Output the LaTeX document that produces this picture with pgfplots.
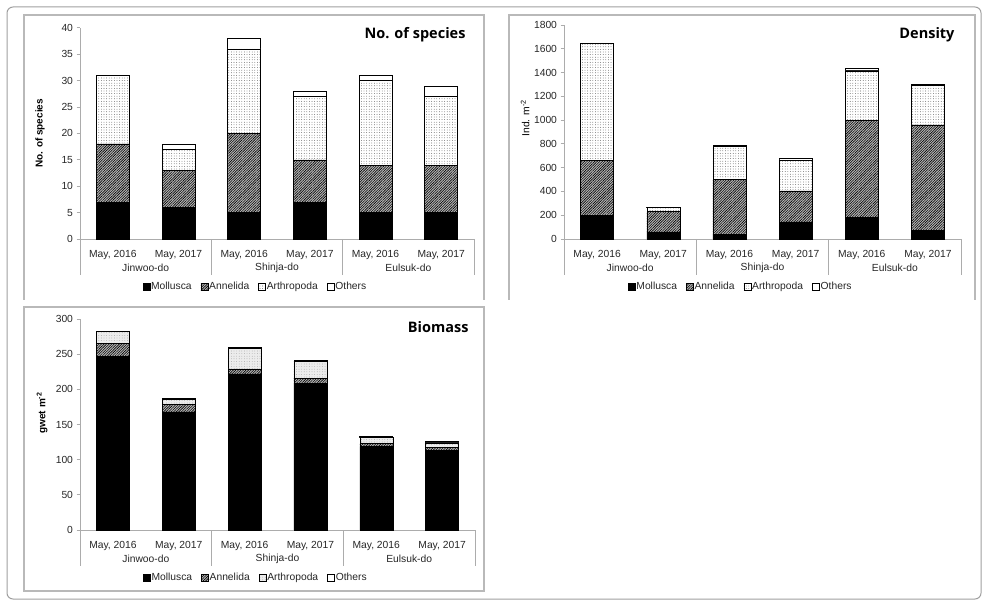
\documentclass[border=0pt]{standalone}
\usepackage{fontspec}
\setmainfont{Liberation Sans}
\newfontfamily\titlefont{Open Sans}
\usepackage{pgfplots}
\pgfplotsset{compat=1.18}
\usepackage{pgfplotstable}
\usetikzlibrary{patterns.meta}

\pgfplotstableread{
x Moll Anne Arth Oth
0 7 11 13 0
1 6 7 4 1
2 5 15 16 2
3 7 8 12 1
4 5 9 16 1
5 5 9 13 2
}\species
\pgfplotstableread{
x Moll Anne Arth Oth
0 200 460 990 0
1 60 170 35 5
2 40 460 280 5
3 145 260 260 10
4 185 815 415 20
5 75 885 330 15
}\density
\pgfplotstableread{
x Moll Anne Arth Oth
0 247 18 17 0
1 168 11 7 1
2 222 7 29 2
3 209 7 24 1
4 119 4 9 1
5 113 5 6 2
}\biomass

\pgfplotsset{
  base/.style={
    ybar stacked, bar width=33pt, scale only axis,
    xmin=-0.5, xmax=5.5, ymin=0,
    xtick={0,...,5},
    xticklabels={{May, 2016},{May, 2017},{May, 2016},{May, 2017},{May, 2016},{May, 2017}},
    axis x line*=bottom, axis y line*=left,
    axis line style={-, gray!65, line width=0.8pt},
    xtick style={draw=none},
    ytick style={gray!65, line width=0.8pt},
    tick align=outside, major tick length=3.5pt,
    tick label style={font=\fontsize{10.3}{12}\selectfont, text=black!85},
    xticklabel style={yshift=-4pt},
    /pgf/number format/assume math mode=true,
    /pgf/number format/1000 sep={},
    clip=false,
    legend columns=4,
    legend image code/.code={\draw[##1] (0pt,-3.5pt) rectangle (7pt,3.5pt);},
    legend style={at={(0.444,0)}, anchor=center, yshift=-48pt, draw=none, fill=none,
      font=\fontsize{10.3}{12}\selectfont, text=black!85,
      /tikz/every even column/.append style={column sep=8pt},
      nodes={inner xsep=1pt, inner ysep=1pt}},
    ylabel style={anchor=center, font=\fontsize{10}{12}\selectfont\bfseries},
  },
  moll/.style={fill=black, draw=black, line width=0.5pt},
  anne/.style={fill=gray!55, draw=black, line width=0.5pt,
     postaction={pattern={Lines[angle=45,distance=1.8pt,line width=0.6pt]}, pattern color=black}},
  arth/.style={fill=white, draw=black, line width=0.5pt,
     postaction={pattern={Dots[distance=2.6pt,radius=0.4pt]}, pattern color=black!75}},
  arthb/.style={fill=gray!15, draw=black, line width=0.5pt,
     postaction={pattern={Dots[distance=2.6pt,radius=0.35pt]}, pattern color=black!45}},
  oth/.style={fill=white, draw=black, line width=0.6pt},
}

\newcommand{\groups}{%
  \draw[gray!65, line width=0.8pt] (axis cs:-0.5,0) -- ++(0pt,-36pt);
  \draw[gray!65, line width=0.8pt] (axis cs:1.5,0) -- ++(0pt,-36pt);
  \draw[gray!65, line width=0.8pt] (axis cs:3.5,0) -- ++(0pt,-36pt);
  \draw[gray!65, line width=0.8pt] (axis cs:5.5,0) -- ++(0pt,-36pt);
  \node[font=\fontsize{10.3}{12}\selectfont, text=black!85] at ([yshift=-29pt]axis cs:0.5,0) {Jinwoo-do};
  \node[font=\fontsize{10.3}{12}\selectfont, text=black!85] at ([yshift=-29pt]axis cs:2.5,0) {Shinja-do};
  \node[font=\fontsize{10.3}{12}\selectfont, text=black!85] at ([yshift=-29pt]axis cs:4.5,0) {Eulsuk-do};
}

\begin{document}
\begin{tikzpicture}
\path[use as bounding box] (0pt,0pt) rectangle (987pt,611pt);
% outer frame and panels
\draw[gray!75, line width=1pt, rounded corners=6pt] (7pt,604pt) rectangle (981pt,12pt);
\draw[gray!55, line width=1.1pt] (24pt,311pt) -- (24pt,596pt) -- (484pt,596pt) -- (484pt,311pt);
\draw[gray!55, line width=1.1pt] (509pt,311pt) -- (509pt,596pt) -- (975pt,596pt) -- (975pt,311pt);
\draw[gray!55, line width=1.1pt] (24pt,304pt) rectangle (484pt,20pt);

% Panel 1: No. of species
\begin{axis}[base, at={(80pt,372pt)}, anchor=south west, width=394pt, height=211.3pt,
  ymax=40, ytick={0,5,...,40}, ylabel={No. of species},
  ylabel style={at={(axis description cs:-0.1015,0.5)}}]
\addplot[moll] table[x=x,y=Moll]{\species};
\addplot[anne] table[x=x,y=Anne]{\species};
\addplot[arth] table[x=x,y=Arth]{\species};
\addplot[oth] table[x=x,y=Oth]{\species};
\legend{Mollusca,Annelida,Arthropoda,Others}
\groups
\end{axis}
\node[anchor=east, font=\titlefont\bfseries\fontsize{14.5}{17}\selectfont] at (469pt,576pt) {No. of species};

% Panel 2: Density
\begin{axis}[base, at={(564pt,372pt)}, anchor=south west, width=397pt, height=214pt,
  ymax=1800, ytick={0,200,...,1800}, ylabel={Ind. m\textsuperscript{-2}},
  ylabel style={at={(axis description cs:-0.098,0.565)}, font=\fontsize{10.3}{12}\selectfont}]
\addplot[moll] table[x=x,y=Moll]{\density};
\addplot[anne] table[x=x,y=Anne]{\density};
\addplot[arth] table[x=x,y=Arth]{\density};
\addplot[oth] table[x=x,y=Oth]{\density};
\legend{Mollusca,Annelida,Arthropoda,Others}
\groups
\end{axis}
\node[anchor=east, font=\titlefont\bfseries\fontsize{14.5}{17}\selectfont] at (958pt,576pt) {Density};

% Panel 3: Biomass
\begin{axis}[base, at={(80pt,81pt)}, anchor=south west, width=395pt, height=211pt,
  ymax=300, ytick={0,50,...,300}, ylabel={gwet m\textsuperscript{-2}},
  ylabel style={at={(axis description cs:-0.096,0.555)}}]
\addplot[moll] table[x=x,y=Moll]{\biomass};
\addplot[anne] table[x=x,y=Anne]{\biomass};
\addplot[arthb] table[x=x,y=Arth]{\biomass};
\addplot[oth] table[x=x,y=Oth]{\biomass};
\legend{Mollusca,Annelida,Arthropoda,Others}
\groups
\end{axis}
\node[anchor=east, font=\titlefont\bfseries\fontsize{14.5}{17}\selectfont] at (472pt,284pt) {Biomass};
\end{tikzpicture}
\end{document}
